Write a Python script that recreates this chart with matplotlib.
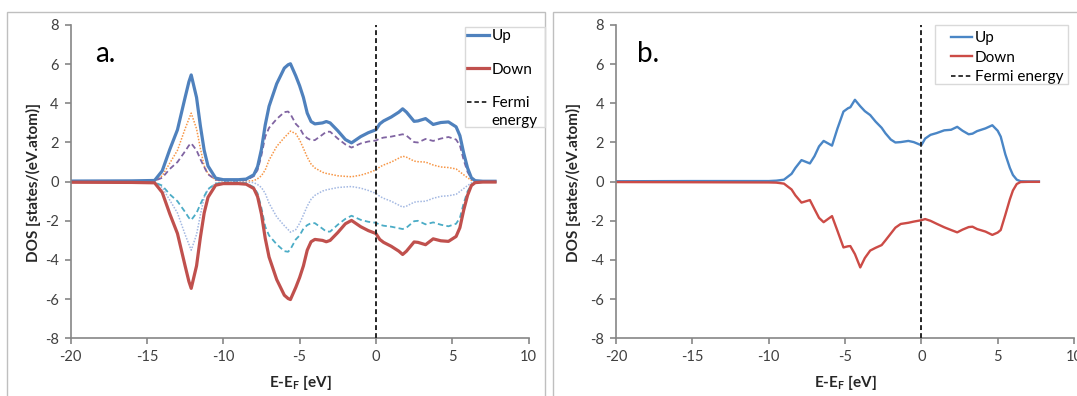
import matplotlib.pyplot as plt
from matplotlib.patches import Rectangle
from matplotlib.lines import Line2D

plt.rcParams['font.family'] = ['Lato', 'DejaVu Sans']
plt.rcParams['mathtext.fontset'] = 'custom'
plt.rcParams['mathtext.rm'] = 'Lato'
plt.rcParams['mathtext.bf'] = 'Lato:bold'
plt.rcParams['axes.unicode_minus'] = False

W, H = 1077, 396

# panel a: total and partial DOS (spin up / spin down)
energy_a = [-20, -16, -14.5, -14, -13.5, -13, -12.5, -12.25, -12.1, -11.75, -11.5, -11.25, -11, -10.5, -10,
            -9, -8.5, -8, -7.75, -7.5, -7.25, -7, -6.5, -6, -5.75, -5.6, -5.25, -5, -4.75, -4.5, -4.25,
            -4, -3.5, -3.25, -3, -2.5, -2, -1.6, -1, -0.5, 0, 0.25, 0.5, 1, 1.5, 1.75, 2, 2.5, 2.75,
            3.25, 3.75, 4.25, 4.75, 5.25, 5.5, 5.75, 6, 6.25, 6.5, 7, 7.8]
up_a = [0.03, 0.04, 0.06, 0.55, 1.65, 2.65, 4.3, 5.1, 5.45, 4.3, 2.85, 1.6, 0.8, 0.18, 0.1,
        0.1, 0.13, 0.35, 0.77, 1.65, 2.9, 3.85, 5.0, 5.8, 5.97, 6.02, 5.4, 4.9, 4.3, 3.5, 3.07,
        2.95, 3.0, 3.07, 3.0, 2.6, 2.15, 1.98, 2.3, 2.5, 2.65, 2.95, 3.1, 3.3, 3.55, 3.72, 3.55, 3.08, 3.1,
        3.22, 2.92, 3.02, 3.05, 2.8, 2.35, 1.45, 0.7, 0.2, 0.05, 0.02, 0.02]
up_d_a = [0.02, 0.03, 0.04, 0.2, 0.65, 1.0, 1.55, 1.85, 1.96, 1.6, 1.15, 0.75, 0.38, 0.1, 0.05,
          0.05, 0.08, 0.28, 0.6, 1.35, 2.3, 2.75, 3.2, 3.55, 3.58, 3.45, 2.95, 2.75, 2.4, 2.22, 2.12,
          2.12, 2.4, 2.55, 2.55, 2.2, 1.9, 1.74, 1.95, 2.05, 2.1, 2.2, 2.25, 2.3, 2.38, 2.42, 2.35, 2.02, 2.0,
          2.18, 2.08, 2.2, 2.28, 2.15, 1.85, 1.1, 0.5, 0.15, 0.04, 0.02, 0.02]
up_p_a = [0.01, 0.01, 0.02, 0.3, 0.95, 1.6, 2.7, 3.2, 3.5, 2.7, 1.7, 0.8, 0.4, 0.08, 0.03,
          0.03, 0.03, 0.05, 0.15, 0.3, 0.6, 1.1, 1.8, 2.25, 2.45, 2.58, 2.45, 2.13, 1.7, 1.25, 0.9,
          0.7, 0.48, 0.42, 0.38, 0.3, 0.27, 0.25, 0.33, 0.45, 0.6, 0.75, 0.85, 1.0, 1.2, 1.3, 1.25, 1.05, 1.02,
          1.0, 0.85, 0.75, 0.72, 0.65, 0.5, 0.35, 0.2, 0.07, 0.02, 0.01, 0.01]
down_a = [-0.03, -0.04, -0.06, -0.55, -1.65, -2.65, -4.3, -5.1, -5.45, -4.3, -2.85, -1.6, -0.8, -0.18, -0.1,
          -0.1, -0.13, -0.35, -0.77, -1.65, -2.9, -3.85, -5.0, -5.8, -5.97, -6.02, -5.4, -4.9, -4.3, -3.5, -3.07,
          -2.95, -3.0, -3.07, -3.0, -2.6, -2.15, -1.98, -2.3, -2.5, -2.65, -2.95, -3.1, -3.3, -3.55, -3.72, -3.55, -3.08, -3.1,
          -3.22, -2.92, -3.02, -3.05, -2.8, -2.35, -1.45, -0.7, -0.2, -0.05, -0.02, -0.02]
down_d_a = [-0.02, -0.03, -0.04, -0.2, -0.65, -1.0, -1.55, -1.85, -1.96, -1.6, -1.15, -0.75, -0.38, -0.1, -0.05,
            -0.05, -0.08, -0.28, -0.6, -1.35, -2.3, -2.75, -3.2, -3.55, -3.58, -3.45, -2.95, -2.75, -2.4, -2.22, -2.12,
            -2.12, -2.4, -2.55, -2.55, -2.2, -1.9, -1.74, -1.95, -2.05, -2.1, -2.2, -2.25, -2.3, -2.38, -2.42, -2.35, -2.02, -2.0,
            -2.18, -2.08, -2.2, -2.28, -2.15, -1.85, -1.1, -0.5, -0.15, -0.04, -0.02, -0.02]
down_p_a = [-0.01, -0.01, -0.02, -0.3, -0.95, -1.6, -2.7, -3.2, -3.5, -2.7, -1.7, -0.8, -0.4, -0.08, -0.03,
            -0.03, -0.03, -0.05, -0.15, -0.3, -0.6, -1.1, -1.8, -2.25, -2.45, -2.58, -2.45, -2.13, -1.7, -1.25, -0.9,
            -0.7, -0.48, -0.42, -0.38, -0.3, -0.27, -0.25, -0.33, -0.45, -0.6, -0.75, -0.85, -1.0, -1.2, -1.3, -1.25, -1.05, -1.02,
            -1.0, -0.85, -0.75, -0.72, -0.65, -0.5, -0.35, -0.2, -0.07, -0.02, -0.01, -0.01]

# panel b
energy_b = [-20, -15, -10, -9.5, -9, -8.5, -8.25, -7.85, -7.3, -7, -6.7, -6.4, -6.1, -5.85, -5.5, -5.1,
            -4.8, -4.65, -4.35, -4.0, -3.7, -3.35, -3.0, -2.6, -2.35, -2.0, -1.7, -1.35, -0.85, -0.5, 0,
            0.25, 0.6, 1.0, 1.5, 1.95, 2.35, 2.7, 3.1, 3.35, 3.65, 4.2, 4.65, 5.0, 5.2, 5.5, 5.8, 6.0,
            6.25, 6.5, 7.0, 7.7]
up_b = [0.02, 0.03, 0.03, 0.05, 0.1, 0.4, 0.7, 1.1, 0.93, 1.3, 1.8, 2.08, 1.95, 1.84, 2.7, 3.58,
        3.75, 3.8, 4.18, 3.85, 3.6, 3.4, 3.07, 2.75, 2.47, 2.15, 2.0, 2.02, 2.08, 2.02, 1.86,
        2.2, 2.39, 2.48, 2.62, 2.65, 2.8, 2.6, 2.42, 2.45, 2.58, 2.72, 2.88, 2.6, 2.3, 1.4, 0.7, 0.34,
        0.1, 0.02, 0.01, 0.01]
down_b = [-0.02, -0.03, -0.04, -0.05, -0.1, -0.4, -0.7, -1.07, -0.94, -1.4, -1.85, -2.07, -1.9, -1.76, -2.5, -3.36,
          -3.3, -3.29, -3.7, -4.38, -3.9, -3.52, -3.38, -3.24, -3.0, -2.65, -2.35, -2.16, -2.1, -2.04, -1.97,
          -1.91, -2.0, -2.15, -2.33, -2.47, -2.59, -2.45, -2.32, -2.3, -2.42, -2.55, -2.72, -2.6, -2.47, -1.7, -0.9, -0.45,
          -0.12, -0.02, -0.01, -0.01]

blue_a, red_a = '#4F81BD', '#C0504D'
blue_b, red_b = '#4A86C6', '#CC4B46'
grey = '#868686'
fermi_ls = (0, (2.5, 1.6))


def fx(x):
    return x / W


def fy(y):
    return 1 - y / H


def px_box(x0, y_top, x1, y_bot):
    return [fx(x0), fy(y_bot), (x1 - x0) / W, (y_bot - y_top) / H]


def frame(x0, y0, x1, y1, color):
    fig.patches.append(Rectangle((fx(x0), fy(y1)), (x1 - x0) / W, (y1 - y0) / H,
                                 transform=fig.transFigure, fill=False, ec=color, lw=1))


def style(ax):
    ax.set_xlim(-20, 10)
    ax.set_ylim(-8, 8)
    ax.set_xticks(range(-20, 11, 5))
    ax.set_yticks(range(-8, 9, 2))
    ax.spines['top'].set_visible(False)
    ax.spines['right'].set_visible(False)
    for s in ['left', 'bottom']:
        ax.spines[s].set_color(grey)
        ax.spines[s].set_linewidth(1.2)
    ax.tick_params(direction='out', length=4, width=1.2, color=grey,
                   labelsize=10.5, labelcolor='#404040', pad=4.5)
    ax.axvline(0, color='#262626', lw=1.4, ls=fermi_ls, zorder=5)


fig = plt.figure(figsize=(W / 100, H / 100), dpi=100)

# panel frames
frame(7, 12, 545, H + 20, '#BFBFBF')
frame(553, 12, W + 20, H + 20, '#BFBFBF')

# ---- panel a ----
ax1 = fig.add_axes(px_box(70.6, 25, 528.6, 338.3))
style(ax1)
ax1.plot(energy_a, up_p_a, color='#F79646', lw=1.1, ls=(0, (1, 1)))
ax1.plot(energy_a, down_p_a, color='#A3B8E2', lw=1.1, ls=(0, (1, 1)))
ax1.plot(energy_a, up_d_a, color='#8064A2', lw=1.3, ls=(0, (3, 1.8)))
ax1.plot(energy_a, down_d_a, color='#4BACC6', lw=1.3, ls=(0, (3, 1.8)))
ax1.plot(energy_a, up_a, color=blue_a, lw=2.3)
ax1.plot(energy_a, down_a, color=red_a, lw=2.3)
fig.text(fx(95), fy(62), 'a.', fontsize=20, color='black')

h1 = [Line2D([], [], color=blue_a, lw=2.3), Line2D([], [], color=red_a, lw=2.3),
      Line2D([], [], color='#262626', lw=1.3, ls=fermi_ls)]
leg1 = ax1.legend(h1, ['Up', 'Down', 'Fermi'], loc='upper left',
                  bbox_to_anchor=(fx(467), fy(29)), bbox_transform=fig.transFigure,
                  borderaxespad=0, frameon=False, fontsize=11,
                  handlelength=1.44, handletextpad=0.15, borderpad=0, labelspacing=1.28)
fig.text(fx(491), fy(121), 'energy', fontsize=11, va='center', color='black')
frame(465, 27, 545, 127, '#D9D9D9')

fig.text(fx(33), fy(182), 'DOS [states/(eV.atom)]', rotation=90, ha='center', va='center',
         fontsize=11, fontweight='bold', color='#262626')
fig.text(fx(300), fy(382), r'E-E$_\mathbf{F}$ [eV]', ha='center', va='center',
         fontsize=11, fontweight='bold', color='#262626')

# ---- panel b ----
ax2 = fig.add_axes(px_box(616, 25, 1074, 338.3))
style(ax2)
ax2.plot(energy_b, up_b, color=blue_b, lw=1.7)
ax2.plot(energy_b, down_b, color=red_b, lw=1.7)
fig.text(fx(637), fy(62), 'b.', fontsize=20, color='black')

h2 = [Line2D([], [], color=blue_b, lw=1.7), Line2D([], [], color=red_b, lw=1.7),
      Line2D([], [], color='#262626', lw=1.3, ls=fermi_ls)]
leg2 = ax2.legend(h2, ['Up', 'Down', 'Fermi energy'], loc='upper left',
                  bbox_to_anchor=(fx(951), fy(31)), bbox_transform=fig.transFigure,
                  borderaxespad=0, frameon=False, fontsize=11,
                  handlelength=1.4, handletextpad=0.15, borderpad=0, labelspacing=0.37)
frame(935, 25, 1068, 84, '#D9D9D9')

fig.text(fx(573), fy(182), 'DOS [states/(eV.atom)]', rotation=90, ha='center', va='center',
         fontsize=11, fontweight='bold', color='#262626')
fig.text(fx(845), fy(382), r'E-E$_\mathbf{F}$ [eV]', ha='center', va='center',
         fontsize=11, fontweight='bold', color='#262626')

fig.savefig('out.png', dpi=100)
